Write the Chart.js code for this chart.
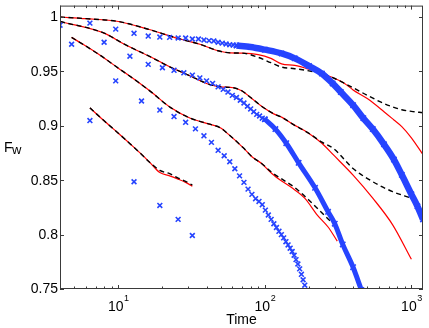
<!DOCTYPE html>
<html><head><meta charset="utf-8">
<script src="https://cdn.jsdelivr.net/npm/chart.js@4/dist/chart.umd.min.js"></script>
<style>html,body{margin:0;padding:0;background:#fff}#wrap{width:429px;height:328px;position:relative}</style>
</head><body><div id="wrap"><canvas id="c"></canvas></div>
<script>
// ---- axis ticks ----
const yTicks = [0.75, 0.8, 0.85, 0.9, 0.95, 1];
const yTickLabels = ['0.75', '0.8', '0.85', '0.9', '0.95', '1'];
const xMajorTicks = [10, 100, 1000];
const xTickExponents = ['1', '2', '3'];
const xMinorTicks = [4, 5, 6, 7, 8, 9, 20, 30, 40, 50, 60, 70, 80, 90, 200, 300, 400, 500, 600, 700, 800, 900];

// ---- curve pair A (top) ----
const tA = [4, 6, 10, 16, 26, 36, 48, 58, 70, 90, 110, 130, 160, 200, 245, 300, 350, 400, 500, 650, 760, 860, 1000, 1200];
const redA = [1.0, 0.9985, 0.9959, 0.9888, 0.980, 0.975, 0.969, 0.967, 0.9668, 0.9655, 0.962, 0.957, 0.9555, 0.952, 0.948, 0.9435, 0.939, 0.933, 0.925, 0.913, 0.9054, 0.8993, 0.889, 0.8735];
const dashA = [1.0, 0.9985, 0.9959, 0.9888, 0.980, 0.975, 0.969, 0.967, 0.9668, 0.963, 0.958, 0.954, 0.9525, 0.9505, 0.948, 0.9435, 0.939, 0.935, 0.928, 0.9205, 0.917, 0.9148, 0.9133, 0.912];

// ---- curve pair B ----
const tB = [4, 8, 11, 16.8, 22.6, 31, 42, 50, 61, 70, 80, 95, 115, 130, 153, 200, 245, 295, 400, 545, 745, 1000];
const redB = [0.9959, 0.9852, 0.975, 0.963, 0.954, 0.9458, 0.938, 0.9358, 0.935, 0.932, 0.926, 0.918, 0.911, 0.908, 0.902, 0.893, 0.884, 0.873, 0.8547, 0.8335, 0.809, 0.7773];
const dashB = [0.9959, 0.9852, 0.975, 0.963, 0.954, 0.9458, 0.938, 0.9358, 0.935, 0.932, 0.926, 0.918, 0.911, 0.908, 0.902, 0.893, 0.885, 0.879, 0.8608, 0.8486, 0.8395, 0.8335];

// ---- curve pair C ----
const tCr = [4.8, 7.3, 10, 13.7, 16.8, 22.6, 31, 42, 50, 55, 71, 82, 95, 112, 131, 153, 187, 228, 270, 312];
const redC = [0.9813, 0.966, 0.953, 0.940, 0.931, 0.917, 0.907, 0.9015, 0.898, 0.8935, 0.880, 0.8714, 0.8653, 0.856, 0.849, 0.843, 0.8335, 0.818, 0.807, 0.794];
const tCd = [4.8, 7.3, 10, 13.7, 16.8, 22.6, 31, 42, 50, 55, 71, 82, 95, 112, 131, 159, 206, 265, 280];
const dashC = [0.9813, 0.966, 0.953, 0.940, 0.931, 0.917, 0.907, 0.9015, 0.898, 0.8935, 0.880, 0.8714, 0.8653, 0.857, 0.851, 0.8435, 0.830, 0.8155, 0.8125];

// ---- curve pair D ----
const tD = [6.4, 8, 10, 12, 14, 16.5, 19.2, 22.4, 25.6, 28.8, 32];
const redD = [0.9165, 0.9046, 0.8932, 0.8836, 0.8753, 0.866, 0.857, 0.854, 0.851, 0.848, 0.8445];
const dashD = [0.9165, 0.9046, 0.8932, 0.8836, 0.8753, 0.866, 0.859, 0.856, 0.852, 0.849, 0.8455];

// ---- blue markers, series 1 ----
const tM1 = [6.4, 9.6, 12.8, 16, 19.2, 22.4, 25.6, 28.8, 32, 35.2, 38.4, 41.6, 44.8, 48, 51.2, 54.4, 57.6, 60.8, 64];
const vM1 = [0.9944, 0.9889, 0.985, 0.9825, 0.9816, 0.9813, 0.9807, 0.9807, 0.9798, 0.9798, 0.9789, 0.9783, 0.978, 0.9768, 0.976, 0.9752, 0.9745, 0.9742, 0.9738];
const tBand1 = [64, 80, 100, 130, 160, 200, 245, 290, 330, 400, 470, 545, 650, 760, 860, 1000, 1100, 1200];
const vBand1 = [0.9738, 0.9725, 0.970, 0.9665, 0.962, 0.955, 0.948, 0.939, 0.931, 0.919, 0.907, 0.897, 0.883, 0.869, 0.855, 0.837, 0.826, 0.814];

// ---- blue markers, series 2 ----
const tM2 = [4, 8, 12, 16, 20, 24, 28, 32, 36, 40, 44, 48, 52, 56, 60, 64, 68, 72, 76, 80, 84, 88, 92, 96, 100];
const vM2 = [0.9925, 0.9768, 0.964, 0.9565, 0.9534, 0.951, 0.9487, 0.9466, 0.944, 0.9413, 0.939, 0.9358, 0.9335, 0.931, 0.928, 0.926, 0.9235, 0.921, 0.918, 0.9155, 0.913, 0.9105, 0.909, 0.907, 0.906];
const tBand2 = [100, 118, 140, 170, 220, 270, 300, 340, 400, 456];
const vBand2 = [0.906, 0.897, 0.884, 0.866, 0.843, 0.821, 0.810, 0.791, 0.770, 0.749];

// ---- blue markers, series 3 ----
const tM3 = [4.8, 9.6, 14.4, 19.2, 24, 28.8, 33.6, 38.4, 43.2, 48, 52.8, 57.6, 62.4, 67.2, 72, 76.8, 81.6, 86.4, 91.2, 96, 100.8, 105.6, 110.4, 115.2, 120, 124.8, 129.6, 134.4, 139.2, 144, 148.8, 153.6, 158.4, 163.2, 168, 172.8, 177.6, 182.4, 187.2, 192];
const vM3 = [0.975, 0.9413, 0.9228, 0.9145, 0.9085, 0.9032, 0.8972, 0.8908, 0.8848, 0.8775, 0.8725, 0.867, 0.8605, 0.854, 0.848, 0.8418, 0.837, 0.833, 0.8305, 0.8275, 0.8225, 0.818, 0.814, 0.810, 0.8065, 0.803, 0.800, 0.797, 0.7935, 0.7905, 0.7875, 0.7845, 0.781, 0.777, 0.773, 0.7685, 0.7635, 0.7585, 0.7535, 0.7485];

// ---- blue markers, series 4 ----
const tM4 = [6.4, 12.8, 19.2, 25.6, 32];
const vM4 = [0.9048, 0.8486, 0.8268, 0.814, 0.7992];

const pts = (xs, ys) => xs.map((x, i) => ({x: x, y: ys[i]}));
const BLUE = 'rgb(38,68,255)';
const FONT = '"Liberation Sans", Arial, Helvetica, sans-serif';

function markers(xs, ys) {
  return {data: pts(xs, ys), showLine: false, pointStyle: 'crossRot', pointRadius: 3.4,
    borderColor: BLUE, backgroundColor: BLUE, borderWidth: 1.6, clip: 0};
}
function band(xs, ys, w) {
  return {data: pts(xs, ys), showLine: true, borderColor: BLUE, backgroundColor: BLUE,
    borderWidth: w, pointStyle: 'crossRot', pointRadius: 3.8, pointBorderWidth: 1.6,
    cubicInterpolationMode: 'monotone', clip: 0};
}
function curve(xs, ys, color, dashed) {
  return {data: pts(xs, ys), showLine: true, pointRadius: 0, borderColor: color,
    borderWidth: dashed ? 1.4 : 1.2, borderDash: dashed ? [5, 3.5] : [],
    cubicInterpolationMode: 'monotone', clip: 0};
}

const datasets = [
  markers(tM1, vM1), band(tBand1, vBand1, 6.5),
  markers(tM2, vM2), band(tBand2, vBand2, 5),
  markers(tM3, vM3), markers(tM4, vM4),
  curve(tA, dashA, '#000', true), curve(tB, dashB, '#000', true),
  curve(tCd, dashC, '#000', true), curve(tD, dashD, '#000', true),
  curve(tA, redA, '#ff0000', false), curve(tB, redB, '#ff0000', false),
  curve(tCr, redC, '#ff0000', false), curve(tD, redD, '#ff0000', false)
];

const axesPlugin = {
  id: 'mAxes',
  afterDraw(chart) {
    const {ctx, chartArea: a, scales} = chart;
    const x = scales.x, y = scales.y;
    ctx.save();
    ctx.lineWidth = 1;
    ctx.strokeStyle = '#3a3a3a';
    ctx.strokeRect(a.left + 0.5, a.top + 0.5, a.right - a.left - 1, a.bottom - a.top - 1);
    ctx.beginPath();
    yTicks.forEach(v => {
      const p = Math.round(y.getPixelForValue(v)) + 0.5;
      ctx.moveTo(a.left, p); ctx.lineTo(a.left + 4, p);
      ctx.moveTo(a.right, p); ctx.lineTo(a.right - 4, p);
    });
    xMajorTicks.forEach(v => {
      const p = Math.round(x.getPixelForValue(v)) + 0.5;
      ctx.moveTo(p, a.bottom); ctx.lineTo(p, a.bottom - 4);
      ctx.moveTo(p, a.top); ctx.lineTo(p, a.top + 4);
    });
    xMinorTicks.forEach(v => {
      const p = Math.round(x.getPixelForValue(v)) + 0.5;
      ctx.moveTo(p, a.bottom); ctx.lineTo(p, a.bottom - 2.5);
      ctx.moveTo(p, a.top); ctx.lineTo(p, a.top + 2.5);
    });
    ctx.stroke();
    ctx.fillStyle = '#000';
    ctx.font = '14px ' + FONT;
    ctx.textAlign = 'right'; ctx.textBaseline = 'middle';
    yTicks.forEach((v, i) => ctx.fillText(yTickLabels[i], a.left - 2, y.getPixelForValue(v) + 0.5));
    ctx.textAlign = 'left'; ctx.textBaseline = 'alphabetic';
    xMajorTicks.forEach((v, i) => {
      const p = x.getPixelForValue(v);
      ctx.font = '14px ' + FONT;
      const w1 = ctx.measureText('10').width;
      ctx.font = '9px ' + FONT;
      const w2 = ctx.measureText(xTickExponents[i]).width;
      const s = p - (w1 + w2) / 2;
      ctx.font = '14px ' + FONT;
      ctx.fillText('10', s, a.bottom + 22);
      ctx.font = '9px ' + FONT;
      ctx.fillText(xTickExponents[i], s + w1 + 0.5, a.bottom + 12);
    });
    ctx.font = '14px ' + FONT;
    ctx.textAlign = 'center';
    ctx.fillText('Time', (a.left + a.right) / 2, a.bottom + 35);
    ctx.textAlign = 'left';
    ctx.fillText('F', 4, 152);
    const fw = ctx.measureText('F').width;
    ctx.font = '13px ' + FONT;
    ctx.fillText('w', 4 + fw - 0.5, 154);
    ctx.restore();
  }
};

new Chart(document.getElementById('c'), {
  type: 'scatter',
  data: {datasets: datasets},
  options: {
    responsive: true, maintainAspectRatio: false, animation: false,
    layout: {padding: {left: 60, right: 6, top: 3, bottom: 39}},
    plugins: {legend: {display: false}, tooltip: {enabled: false}},
    elements: {line: {tension: 0}},
    scales: {
      x: {type: 'logarithmic', min: 4, max: 1200, display: false},
      y: {type: 'linear', min: 0.75, max: 1.0105, display: false}
    }
  },
  plugins: [axesPlugin]
});
</script></body></html>
